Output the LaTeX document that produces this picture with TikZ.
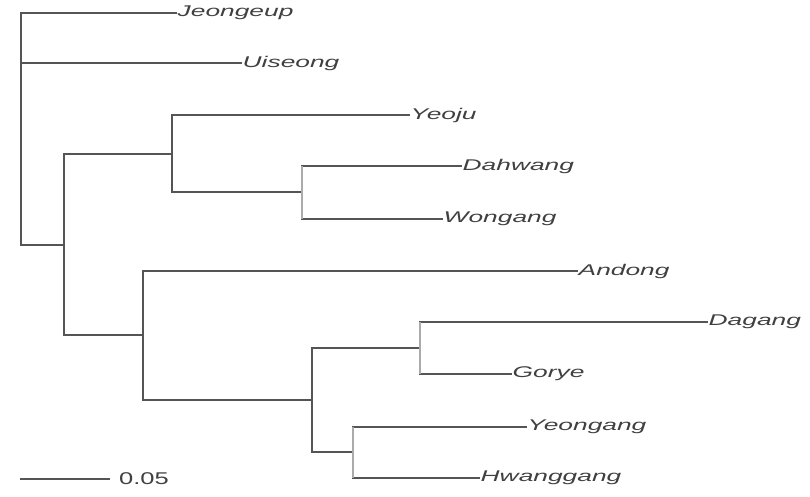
\documentclass[tikz,border=0pt]{standalone}
\usepackage{fontspec}
\setmainfont{Liberation Sans}
\newcommand{\lbl}[1]{\scalebox{1.7}[1]{\fontsize{15.5}{15.5}\selectfont\itshape #1}}
\definecolor{branch}{HTML}{555555}
\definecolor{lightbr}{HTML}{ABABAB}
\definecolor{txt}{HTML}{404040}
\tikzset{
  br/.style={draw=branch, line width=1.1pt},
  lbr/.style={draw=lightbr, line width=2pt},
  leaf/.style={anchor=west, inner sep=0.5pt, text=txt},
}
\begin{document}
\begin{tikzpicture}[x=1pt, y=-1pt]
\useasboundingbox[fill=white] (0,0) rectangle (810,496);
% internal nodes
\coordinate (root) at (21,129);
\coordinate (A) at (64,245);
\coordinate (B) at (172,154);
\coordinate (D) at (302,192);
\coordinate (C) at (143,335);
\coordinate (E) at (312,400);
\coordinate (F) at (420,348);
\coordinate (G) at (353,452);
% leaves
\node[leaf] (jeo) at (177,13) {\lbl{Jeongeup}};
\node[leaf] (uis) at (242,63) {\lbl{Uiseong}};
\node[leaf] (yeo) at (410,115) {\lbl{Yeoju}};
\node[leaf] (dah) at (462,166) {\lbl{Dahwang}};
\node[leaf] (won) at (443,219) {\lbl{Wongang}};
\node[leaf] (and) at (578,271) {\lbl{Andong}};
\node[leaf] (dag) at (708,322) {\lbl{Dagang}};
\node[leaf] (gor) at (512,374) {\lbl{Gorye}};
\node[leaf] (yeg) at (527,427) {\lbl{Yeongang}};
\node[leaf] (hwa) at (480,478) {\lbl{Hwanggang}};
% branches
\draw[br] (root) |- (jeo.west);
\draw[br] (root) |- (uis.west);
\draw[br] (root) |- (A);
\draw[br] (A) |- (B);
\draw[br] (A) |- (C);
\draw[br] (B) |- (yeo.west);
\draw[br] (B) |- (D);
\draw[br] (D) |- (dah.west);
\draw[br] (D) |- (won.west);
\draw[br] (C) |- (and.west);
\draw[br] (C) |- (E);
\draw[br] (E) |- (F);
\draw[br] (E) |- (G);
\draw[br] (F) |- (dag.west);
\draw[br] (F) |- (gor.west);
\draw[br] (G) |- (yeg.west);
\draw[br] (G) |- (hwa.west);
% lighter verticals
\draw[lbr] (dah.west -| D) -- (won.west -| D);
\draw[lbr] (dag.west -| F) -- (gor.west -| F);
\draw[lbr] (yeg.west -| G) -- (hwa.west -| G);
% scale bar
\coordinate (sb) at (20,479);
\coordinate (sbe) at (110,479);
\node[anchor=west, inner sep=0pt, text=txt] (sbl) at (119,479) {\scalebox{1.5}[1]{\fontsize{17}{17}\selectfont 0.05}};
\draw[br] (sb) -- (sbe);
\end{tikzpicture}
\end{document}
